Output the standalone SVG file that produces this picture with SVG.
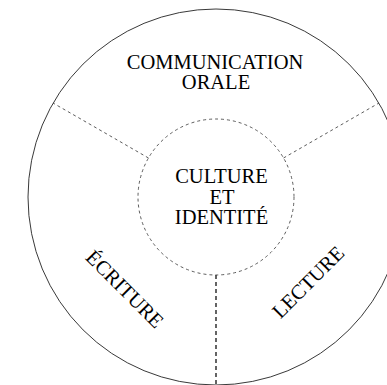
<svg xmlns="http://www.w3.org/2000/svg" width="387" height="385" viewBox="0 0 387 385">
<style>
.t{font-family:"Liberation Serif","Times New Roman",serif;font-size:20.5px;fill:#000;text-anchor:middle}
.d{fill:none;stroke:#333;stroke-width:0.8;stroke-dasharray:3 3}
</style>
<rect width="387" height="385" fill="#fff"/>
<g id="outer"><circle cx="216" cy="197" r="188" fill="none" stroke="#222" stroke-width="0.9"/></g>
<g id="connectors">
<line class="d" x1="148.5" y1="158" x2="53" y2="103"/>
<line class="d" x1="283.5" y1="158" x2="379" y2="103"/>
<line x1="216" y1="275" x2="216" y2="385" fill="none" stroke="#111" stroke-width="1.3" stroke-dasharray="4 3"/>
</g>
<g id="center"><circle class="d" cx="216" cy="197" r="78"/>
<text class="t" x="221.5" y="183">CULTURE</text>
<text class="t" x="222" y="203.5">ET</text>
<text class="t" x="221.5" y="224">IDENTITÉ</text></g>
<g id="communication"><text class="t" x="215" y="69">COMMUNICATION</text>
<text class="t" x="216" y="89">ORALE</text></g>
<g id="ecriture"><text class="t" transform="translate(120,294) rotate(45)">ÉCRITURE</text></g>
<g id="lecture"><text class="t" transform="translate(313,287) rotate(-45)">LECTURE</text></g>
</svg>
